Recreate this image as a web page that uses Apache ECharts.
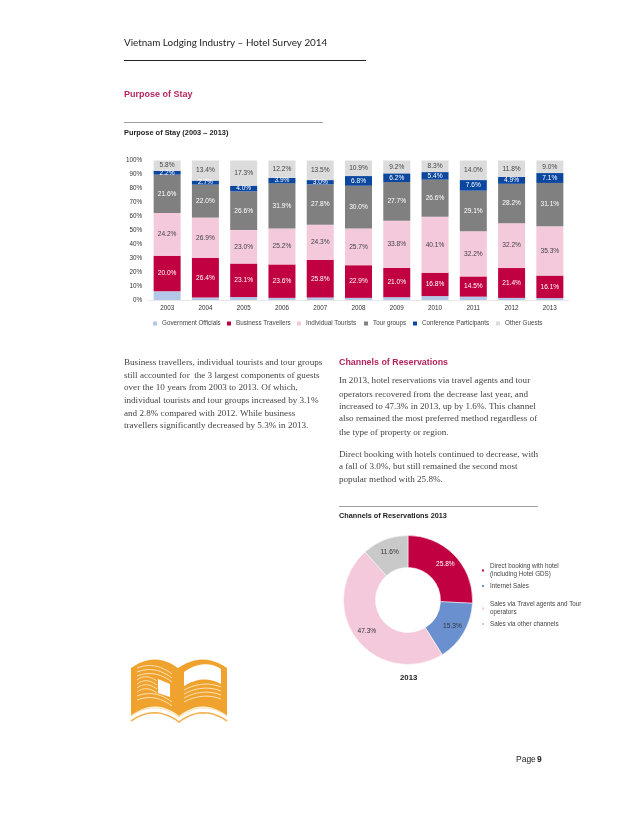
<!DOCTYPE html>
<html><head><meta charset="utf-8">
<style>html,body{margin:0;padding:0;background:#fff}#c{width:638px;height:826px}</style>
<script src="https://cdn.jsdelivr.net/npm/echarts@6/dist/echarts.min.js"></script>
</head><body><div id="c"></div>
<script>
const years=['2003','2004','2005','2006','2007','2008','2009','2010','2011','2012','2013'];
const government=[4.9,1.7,2.0,1.5,1.8,1.5,2.0,2.8,2.4,1.5,1.4];
const business=[20.0,26.4,23.1,23.6,25.8,22.9,21.0,16.8,14.5,21.4,16.1];
const individual=[24.2,26.9,23.0,25.2,24.3,25.7,33.8,40.1,32.2,32.2,35.3];
const tour=[21.6,22.0,26.6,31.9,27.8,30.0,27.7,26.6,29.1,28.2,31.1];
const conference=[2.2,2.7,4.0,3.9,3.0,6.8,6.2,5.4,7.6,4.9,7.1];
const other=[5.8,13.4,17.3,12.2,13.5,10.9,9.2,8.3,14.0,11.8,9.0];
const seriesNames=['Government Officials','Business Travellers','Individual Tourists','Tour groups','Conference Participants','Other Guests'];
const channelNames=['Direct booking with hotel\n(including Hotel GDS)','Internet Sales','Sales via Travel agents and Tour\noperators','Sales via other channels'];
const channelValues=[25.8,15.3,47.3,11.6];
const leftPara=['Business travellers, individual tourists and tour groups','still accounted for  the 3 largest components of guests','over the 10 years from 2003 to 2013. Of which,','individual tourists and tour groups increased by 3.1%','and 2.8% compared with 2012. While business','travellers significantly decreased by 5.3% in 2013.'];
const rightPara1=['In 2013, hotel reservations via travel agents and tour','operators recovered from the decrease last year, and','increased to 47.3% in 2013, up by 1.6%. This channel','also remained the most preferred method regardless of','the type of property or region.'];
const rightPara2=['Direct booking with hotels continued to decrease, with','a fall of 3.0%, but still remained the second most','popular method with 25.8%.'];

const SANS='"Liberation Sans",Arial,sans-serif', SERIF='"Liberation Serif",serif';
const totals=years.map((_,i)=>government[i]+business[i]+individual[i]+tour[i]+conference[i]+other[i]);
function bar(name,arr,color,labelColor,showLabel){
  return {name,type:'bar',stack:'s',barWidth:27,data:arr.map((v,i)=>v/totals[i]*100),
    itemStyle:{color},
    label:{show:showLabel,position:'inside',color:labelColor,fontSize:6.6,fontFamily:SANS,
      formatter:p=>arr[p.dataIndex].toFixed(1)+'%'},
    emphasis:{disabled:true}};
}
function rule(x1,x2,y,stroke,w){return {type:'line',silent:true,shape:{x1,y1:y,x2,y2:y},style:{stroke,lineWidth:w}};}
function lines(arr,x,ys){return arr.map((t,i)=>({type:'text',silent:true,x,y:ys[i],style:{text:t,fill:'#444',font:'9.1px '+SERIF,textVerticalAlign:'middle'}}));}
function T(t,x,y,font,fill){return {type:'text',silent:true,x,y,style:{text:t,fill,font,textVerticalAlign:'middle'}};}
// decorative book icon helpers
function q(x0,y0,cx,cy,x1,y1){const p=[];for(let k=0;k<=12;k++){const t=k/12,u=1-t;p.push([u*u*x0+2*u*t*cx+t*t*x1,u*u*y0+2*u*t*cy+t*t*y1]);}return p;}
function poly(points,fill){return {type:'polygon',silent:true,shape:{points},style:{fill}};}
function pl(points,stroke,w){return {type:'polyline',silent:true,shape:{points},style:{stroke,fill:null,lineWidth:w}};}
const BOOK='#f0a22e', PALE='#fde3b6';
const bookEls=[
 poly([...q(131,668,155,651,178,668),...q(178,668,203,651,227,668),[227,716],...q(227,716,203,697,179,716),...q(179,716,155,697,131,716)],BOOK),
 poly([...q(184,672,204,658,221,669),[221,684],...q(221,684,203,674,184,686)],'#fff'),
 poly([[158,679],[170,684],[170,697],[158,693]],'#fff'),
 ...[668,672,676,680,684,688,692,696,700].map((y,i)=>pl(q(137,y,(i>=3&&i<=6)?146:155,y-7,(i>=3&&i<=6)?157:172,y+((i>=3&&i<=6)?1:6)),PALE,1)),
 ...[687,691,695,699].map(y=>pl(q(184,y+3,203,y-7,221,y),PALE,1)),
 pl([...q(131,716,155,699,179,717),...q(179,717,203,699,227,716)],PALE,1.2),
 pl([...q(131,721,155,704,179,722),...q(179,722,203,704,227,721)],'#f3b04f',1.5)
];

const chart=echarts.init(document.getElementById('c'),null,{renderer:'canvas'});
const legendText={fontSize:6.3,fontFamily:SANS,color:'#444',lineHeight:8};
const oneLegend=(name,left,top)=>({left,top,padding:0,data:[name],itemWidth:4,itemHeight:4,itemGap:0,icon:'rect',selectedMode:false,textStyle:legendText});
chart.setOption({
  animation:false,backgroundColor:'#fff',
  grid:{left:148,top:160.5,width:421,height:139.5,containLabel:false},
  xAxis:{type:'category',data:years,axisTick:{show:false},axisLine:{lineStyle:{color:'#d0d0d0',width:0.5}},
    axisLabel:{fontSize:6.3,fontFamily:SANS,color:'#333',margin:5}},
  yAxis:{type:'value',min:0,max:100,interval:10,splitLine:{show:false},axisLine:{show:false},axisTick:{show:false},
    axisLabel:{fontSize:6.3,fontFamily:SANS,color:'#333',margin:6,formatter:'{value}%'}},
  legend:[
    oneLegend(seriesNames[0],153,319.5),oneLegend(seriesNames[1],227,319.5),oneLegend(seriesNames[2],297,319.5),
    oneLegend(seriesNames[3],364,319.5),oneLegend(seriesNames[4],413,319.5),oneLegend(seriesNames[5],496,319.5),
    oneLegend(channelNames[0],480,562.5),oneLegend(channelNames[1],480,582),oneLegend(channelNames[2],480,600.5),oneLegend(channelNames[3],480,620)
  ],
  series:[
    bar(seriesNames[0],government,'#b3c8e8','#333',false),
    bar(seriesNames[1],business,'#c00040','#fff',true),
    bar(seriesNames[2],individual,'#f3c9db','#444',true),
    bar(seriesNames[3],tour,'#808080','#fff',true),
    bar(seriesNames[4],conference,'#0b479f','#fff',true),
    bar(seriesNames[5],other,'#dcdcdc','#444',true),
    {type:'pie',center:[408,600],radius:[32.5,64.5],startAngle:90,clockwise:true,silent:true,
     data:channelNames.map((n,i)=>({name:n,value:channelValues[i],
       itemStyle:{color:['#c00040','#6a90d0','#f3c9db','#c9c9c9'][i],borderColor:'#fff',borderWidth:0.5},
       label:{color:['#ffffff','#333','#333','#333'][i]}})),
     label:{show:true,position:'inside',fontSize:6.6,fontFamily:SANS,formatter:p=>p.value.toFixed(1)+'%'},
     labelLine:{show:false}}
  ],
  graphic:{elements:[
    T('Vietnam Lodging Industry – Hotel Survey 2014',124,43,'9.9px Lato,sans-serif','#222'),
    rule(124,366,60.5,'#222',1),
    T('Purpose of Stay',124,95,'bold 9px '+SANS,'#b5245f'),
    rule(124,323,122.5,'#777',0.7),
    T('Purpose of Stay (2003 – 2013)',124,133,'bold 7.4px '+SANS,'#222'),
    ...lines(leftPara,124,[363,375.5,388,401,413.5,426]),
    T('Channels of Reservations',339,363,'bold 8.9px '+SANS,'#b5245f'),
    ...lines(rightPara1,339,[381,394.5,407,419,432.5]),
    ...lines(rightPara2,339,[455,467,480]),
    rule(339,538,506.5,'#777',0.7),
    T('Channels of Reservations 2013',339,516,'bold 7.3px '+SANS,'#222'),
    T('2013',400,678,'bold 7.8px '+SANS,'#222'),
    T('Page',516,760,'8.5px '+SANS,'#222'),
    T('9',537,760,'bold 8.5px '+SANS,'#222'),
    ...bookEls
  ]}
});
</script></body></html>
